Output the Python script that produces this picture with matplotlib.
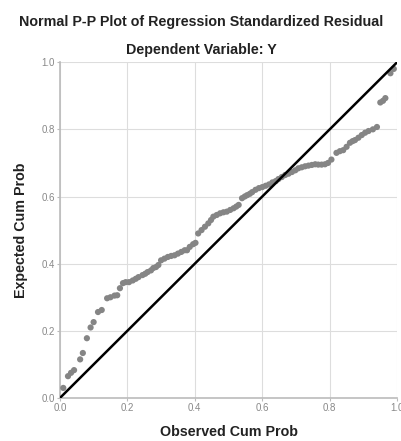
import matplotlib
matplotlib.use("Agg")
import matplotlib.pyplot as plt

plt.rcParams['font.family'] = ['Liberation Sans', 'DejaVu Sans']

# observed vs expected cumulative probabilities
observed = [0.01, 0.024, 0.033, 0.042, 0.06, 0.068, 0.08, 0.091, 0.10, 0.113,
            0.124, 0.14, 0.15, 0.162, 0.17, 0.178, 0.187, 0.195, 0.205, 0.216,
            0.225, 0.233, 0.245, 0.253, 0.26, 0.27, 0.277, 0.285, 0.292, 0.30,
            0.31, 0.32, 0.33, 0.34, 0.35, 0.36, 0.37, 0.377, 0.385, 0.395,
            0.402, 0.41, 0.42, 0.43, 0.44, 0.448, 0.455, 0.465, 0.475, 0.485,
            0.495, 0.505, 0.515, 0.523, 0.53, 0.54, 0.548, 0.555, 0.563, 0.57,
            0.58, 0.59, 0.60, 0.61, 0.62, 0.63, 0.64, 0.648, 0.658, 0.668,
            0.678, 0.688, 0.698, 0.707, 0.717, 0.727, 0.737, 0.747, 0.757, 0.766,
            0.776, 0.786, 0.795, 0.805, 0.82, 0.83, 0.84, 0.85, 0.86, 0.868,
            0.875, 0.885, 0.895, 0.905, 0.915, 0.928, 0.94, 0.95, 0.958, 0.965,
            0.98, 0.99]
expected = [0.03, 0.065, 0.075, 0.083, 0.115, 0.134, 0.178, 0.21, 0.226, 0.256,
            0.262, 0.297, 0.30, 0.305, 0.306, 0.327, 0.342, 0.345, 0.345, 0.35,
            0.355, 0.36, 0.366, 0.37, 0.375, 0.38, 0.387, 0.39, 0.396, 0.41,
            0.415, 0.42, 0.423, 0.425, 0.43, 0.435, 0.44, 0.44, 0.45, 0.458,
            0.462, 0.49, 0.50, 0.51, 0.52, 0.53, 0.54, 0.545, 0.55, 0.553,
            0.555, 0.56, 0.565, 0.57, 0.575, 0.595, 0.60, 0.604, 0.608, 0.613,
            0.62, 0.625, 0.628, 0.632, 0.636, 0.642, 0.646, 0.652, 0.658, 0.664,
            0.668, 0.673, 0.678, 0.684, 0.687, 0.69, 0.692, 0.694, 0.696, 0.695,
            0.695, 0.696, 0.70, 0.71, 0.73, 0.735, 0.738, 0.748, 0.76, 0.765,
            0.768, 0.775, 0.783, 0.79, 0.795, 0.80, 0.807, 0.88, 0.885, 0.893,
            0.967, 0.98]
diag = [0.0, 1.0]
ticks = [0.0, 0.2, 0.4, 0.6, 0.8, 1.0]

fig = plt.figure(figsize=(4.02, 4.41), dpi=100)
ax = fig.add_axes([0.149, 0.0975, 0.839, 0.7615])

ax.scatter(observed, expected, s=20, color='#858585', edgecolors='none', zorder=3)
ax.plot(diag, diag, color='black', linewidth=1.8, zorder=4)

ax.set_xlim(0, 1)
ax.set_ylim(0, 1)
ax.set_xticks(ticks)
ax.set_yticks(ticks)
ax.set_xticklabels(['%.1f' % t for t in ticks])
ax.set_yticklabels(['%.1f' % t for t in ticks])
ax.tick_params(labelsize=7, labelcolor='#888888', color='#bbbbbb', length=2, width=0.8, pad=1.5)
ax.grid(color='#dddddd', linewidth=0.8)
ax.set_axisbelow(True)
for side in ['top', 'right']:
    ax.spines[side].set_visible(False)
for side in ['left', 'bottom']:
    ax.spines[side].set_color('#bbbbbb')
    ax.spines[side].set_linewidth(1.2)

ax.set_xlabel('Observed Cum Prob', fontsize=10.3, fontweight='bold', color='#222222', labelpad=9)
ax.set_ylabel('Expected Cum Prob', fontsize=10.3, fontweight='bold', color='#222222', labelpad=10)
fig.text(0.5, 0.95, 'Normal P-P Plot of Regression Standardized Residual',
         ha='center', va='center', fontsize=10.3, fontweight='bold', color='#222222')
fig.text(0.5, 0.887, 'Dependent Variable: Y',
         ha='center', va='center', fontsize=10.3, fontweight='bold', color='#222222')

fig.savefig('out.png', dpi=100)
